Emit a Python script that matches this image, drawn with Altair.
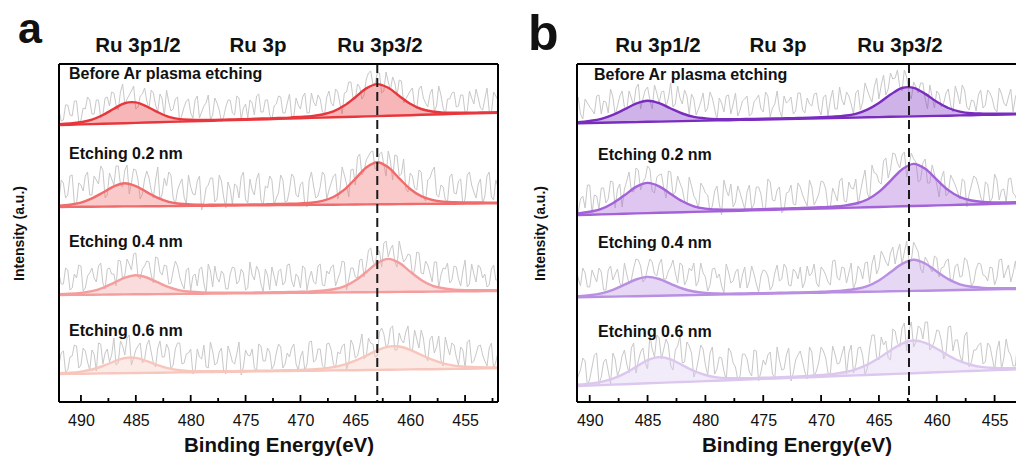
import altair as alt
import pandas as pd

FONT = "Liberation Sans"

# ---------------- shared axes / labels ----------------
E_FIT = list(range(492, 451, -1))                        # fit grid (eV)
E_RAW = [round(492 - 0.4 * j, 1) for j in range(101)]    # raw-data grid (eV)
E_MID = [round(491.8 - 0.4 * k, 1) for k in range(100)]  # in-between raw-data points (eV)
STAGES = ["Before Ar plasma etching", "Etching 0.2 nm", "Etching 0.4 nm", "Etching 0.6 nm"]
PEAK_LABELS = ["Ru 3p1/2", "Ru 3p", "Ru 3p3/2"]
TICKS_MAJOR = [490, 485, 480, 475, 470, 465, 460, 455]
TICKS_MINOR = [492.5, 487.5, 482.5, 477.5, 472.5, 467.5, 462.5, 457.5, 452.5]
DASH_A = [463.0]
DASH_B = [462.4]
COLORS_A = ["#e8373c", "#f06b6b", "#f59d9d", "#f7c6bd"]
COLORS_B = ["#7a2cbf", "#a362d8", "#b98fe2", "#dcc8ee"]

# ---------------- panel a ----------------
A1_BASE = [277.0,277.3,277.6,277.9,278.2,278.5,278.8,279.1,279.5,279.8,280.1,280.4,280.7,281.0,281.3,281.6,281.9,282.2,282.5,282.8,283.1,283.4,283.8,284.1,284.4,284.7,285.0,285.3,285.6,285.9,286.2,286.5,286.8,287.2,287.5,287.8,288.1,288.4,288.7,289.0,289.3]
A1_FIT = [277.8,278.5,279.8,282.4,287.0,293.2,298.9,299.6,295.5,289.8,285.2,282.9,282.2,282.0,282.1,282.4,282.6,282.9,283.3,283.6,284.0,284.4,285.1,285.9,287.5,290.6,296.4,304.8,313.6,317.9,314.2,306.0,298.2,293.0,290.5,289.4,289.2,289.2,289.4,289.5,289.8]
A1_RAW = [292,282,297,286,301,282,293,302,288,302,
          287,305,310,297,310,297,307,316,295,308,
          301,312,297,308,286,300,293,305,287,301,
          289,302,284,296,307,287,299,280,295,302,
          287,304,294,284,299,306,290,302,287,296,
          306,289,299,285,304,293,309,289,300,307,
          290,305,299,313,298,309,320,303,318,303,
          323,331,318,329,311,320,325,306,321,303,
          311,296,313,304,295,313,296,307,287,303,
          310,296,307,291,304,313,294,303,291,310,302]
A1_MID = [281,297,287,301,280,294,305,288,302,284,
          304,296,309,292,318,303,311,293,306,314,
          293,309,290,303,312,291,303,280,295,303,
          284,306,290,299,282,304,292,285,302,289,
          306,282,298,302,287,308,290,302,282,298,
          305,289,308,286,297,305,289,309,296,303,
          288,311,296,310,288,310,320,303,315,307,
          329,318,329,309,330,312,319,322,299,307,
          314,293,316,299,308,291,316,294,303,309,
          295,307,289,311,298,304,292,314,289,306]

A2_BASE = [195.0,195.1,195.2,195.3,195.4,195.5,195.6,195.6,195.7,195.8,195.9,196.0,196.1,196.2,196.3,196.4,196.5,196.6,196.7,196.8,196.9,196.9,197.0,197.1,197.2,197.3,197.4,197.5,197.6,197.7,197.8,197.9,198.0,198.1,198.1,198.2,198.3,198.4,198.5,198.6,198.7]
A2_FIT = [196.3,197.3,199.4,203.6,209.5,215.7,218.8,215.9,209.9,204.2,200.2,198.3,197.6,197.2,197.2,197.2,197.3,197.4,197.6,197.7,198.0,198.2,198.6,199.3,201.2,205.0,212.4,223.2,234.5,239.8,234.7,223.6,213.0,205.8,202.1,200.4,199.8,199.6,199.5,199.4,199.4]
A2_RAW = [202,219,207,227,199,217,226,207,226,218,
          232,207,223,236,217,232,208,233,222,208,
          231,212,222,202,224,230,204,212,223,198,
          215,207,226,200,217,224,203,221,194,213,
          218,204,230,199,212,223,202,216,226,197,
          209,222,201,228,207,218,197,222,216,206,
          230,203,219,228,212,227,205,233,245,227,
          242,250,233,248,237,251,222,246,228,213,
          229,214,232,205,222,231,207,217,202,225,
          209,221,197,227,217,204,223,206,230,202,215]
A2_MID = [222,204,226,198,219,211,230,207,222,236,
          204,229,217,236,215,237,219,232,203,223,
          224,204,235,208,216,227,198,218,205,227,
          208,221,192,214,224,200,227,205,220,198,
          216,225,202,223,207,229,196,214,222,204,
          227,200,212,225,205,220,195,230,204,215,
          227,212,226,203,235,218,232,217,248,231,
          246,251,235,250,226,241,247,226,243,210,
          226,212,230,201,224,235,205,215,200,228,
          208,223,203,230,210,218,198,226,205,222]

A3_BASE = [107.0,107.1,107.2,107.3,107.4,107.5,107.6,107.7,107.8,107.9,108.0,108.1,108.2,108.3,108.4,108.5,108.6,108.7,108.8,108.9,109.0,109.1,109.2,109.3,109.4,109.5,109.6,109.7,109.8,109.9,110.0,110.1,110.2,110.3,110.4,110.5,110.6,110.7,110.8,110.9,111.0]
A3_FIT = [107.7,108.2,109.1,110.8,114.2,119.2,124.3,126.8,124.5,119.6,114.9,111.7,110.2,109.5,109.2,109.2,109.3,109.3,109.5,109.6,109.8,110.0,110.2,110.5,111.2,112.7,115.6,121.5,130.0,138.9,143.1,139.1,130.4,122.1,116.4,113.7,112.4,111.9,111.8,111.7,111.7]
A3_RAW = [128,118,132,114,124,136,114,129,124,136,
          119,133,128,116,141,127,138,148,125,133,
          141,127,145,130,137,118,131,136,118,132,
          111,128,133,119,138,115,124,131,113,128,
          134,121,129,114,127,136,118,133,112,126,
          131,117,137,121,128,114,134,124,120,136,
          117,131,135,116,129,140,122,134,124,143,
          136,154,136,151,159,145,157,135,150,143,
          147,132,149,128,137,120,140,127,133,119,
          136,123,131,115,138,120,134,128,117,137,122]
A3_MID = [118,134,112,128,137,111,126,134,120,139,
          113,134,128,142,123,143,132,149,123,136,
          140,119,144,127,136,119,141,125,113,134,
          126,116,135,108,131,136,120,128,113,135,
          118,133,112,140,122,131,110,127,135,116,
          133,120,138,115,125,136,112,131,118,138,
          116,128,137,123,141,112,134,125,142,125,
          152,141,151,135,161,153,140,161,140,148,
          127,150,129,141,129,140,114,134,139,122,
          135,116,142,118,128,137,124,115,133,122]

A4_BASE = [28.0,28.1,28.3,28.4,28.6,28.7,28.9,29.0,29.1,29.3,29.4,29.6,29.7,29.9,30.0,30.1,30.3,30.4,30.6,30.7,30.9,31.0,31.1,31.3,31.4,31.6,31.7,31.8,32.0,32.1,32.3,32.4,32.6,32.7,32.8,33.0,33.1,33.3,33.4,33.6,33.7]
A4_FIT = [28.7,29.2,30.4,32.5,36.0,40.4,44.0,44.1,40.9,36.8,33.6,31.8,30.9,30.7,30.7,30.7,30.9,31.0,31.2,31.3,31.6,31.8,32.1,32.6,33.4,34.9,37.4,41.3,46.4,51.7,55.4,55.5,52.2,47.1,42.3,38.7,36.4,35.3,34.7,34.5,34.5]
A4_RAW = [37,51,32,46,56,37,51,32,48,59,
          38,53,47,37,61,47,67,44,56,39,
          57,50,35,61,45,53,37,59,38,48,
          53,31,45,57,34,51,39,54,28,49,
          38,60,35,47,53,31,56,41,50,37,
          58,34,49,54,38,45,31,60,40,53,
          36,58,52,34,48,58,39,57,46,68,
          46,59,45,70,68,58,76,52,62,70,
          52,72,54,64,41,66,55,42,65,47,
          57,37,52,60,39,48,57,41,54,33,50]
A4_MID = [49,30,45,57,34,54,40,52,31,58,
          49,40,64,39,56,64,37,52,59,43,
          62,39,54,45,58,33,53,59,39,49,
          28,53,43,35,60,37,50,31,56,40,
          48,27,52,46,34,58,41,54,33,49,
          55,38,45,58,32,51,38,61,42,53,
          34,59,38,50,56,33,62,44,56,43,
          64,58,46,74,55,74,52,69,59,76,
          51,63,72,46,63,49,66,36,55,59,
          45,55,34,62,41,56,47,36,59,40]

# ---------------- panel b ----------------
B1_BASE = [278.5,278.7,279.0,279.2,279.5,279.7,279.9,280.2,280.4,280.6,280.9,281.1,281.4,281.6,281.8,282.1,282.3,282.5,282.8,283.0,283.3,283.5,283.7,284.0,284.2,284.4,284.7,284.9,285.2,285.4,285.6,285.9,286.1,286.3,286.6,286.8,287.1,287.3,287.5,287.8,288.0]
B1_FIT = [279.3,279.9,281.1,283.1,287.1,292.6,298.4,301.3,298.9,293.5,288.5,285.1,283.6,282.9,282.7,282.9,283.0,283.2,283.5,283.7,284.0,284.3,284.7,285.3,286.2,288.2,292.4,299.0,307.4,314.0,314.2,308.1,300.2,294.0,290.4,288.8,288.4,288.2,288.3,288.4,288.5]
B1_RAW = [295,281,299,288,303,295,288,307,301,289,
          305,296,311,292,304,314,293,312,302,317,
          299,311,304,295,316,298,306,308,287,300,
          290,310,293,304,290,307,298,286,301,306,
          288,303,293,310,285,298,292,306,301,288,
          309,292,304,296,309,287,307,302,293,315,
          297,306,288,312,300,312,300,324,317,307,
          329,324,315,332,309,320,309,319,293,305,
          311,295,309,297,316,298,312,292,301,307,
          294,312,303,290,308,296,313,305,294,311,299]
B1_MID = [301,288,305,283,299,292,306,288,300,313,
          287,306,295,311,296,318,303,315,293,309,
          310,295,319,298,304,312,288,303,293,309,
          294,304,282,299,306,288,309,292,303,286,
          300,307,290,306,294,311,285,299,305,291,
          309,289,298,308,293,305,286,312,293,302,
          310,298,309,292,319,305,315,303,327,313,
          323,332,311,325,303,315,319,303,317,294,
          308,299,313,290,308,317,295,302,291,312,
          297,309,293,314,299,305,290,311,295,308]

B2_BASE = [186.7,187.0,187.3,187.6,187.9,188.2,188.6,188.9,189.2,189.5,189.8,190.1,190.4,190.7,191.0,191.3,191.6,191.9,192.3,192.6,192.9,193.2,193.5,193.8,194.1,194.4,194.7,195.0,195.4,195.7,196.0,196.3,196.6,196.9,197.2,197.5,197.8,198.1,198.4,198.7,199.1]
B2_FIT = [187.8,188.6,190.2,193.1,198.8,206.7,215.1,219.1,215.7,208.0,200.7,195.7,193.4,192.5,192.3,192.4,192.6,192.8,193.2,193.5,193.9,194.3,194.8,195.4,196.4,198.5,202.5,210.1,221.2,232.6,238.1,233.2,222.3,211.9,204.9,201.5,200.0,199.6,199.6,199.7,199.9]
B2_RAW = [200,210,188,203,194,217,207,193,214,203,
          220,213,195,221,211,234,212,224,233,209,
          227,214,231,207,226,213,198,216,202,219,
          209,190,211,198,222,206,195,216,201,210,
          193,215,208,195,220,201,215,192,210,198,
          219,207,196,215,202,221,213,195,208,221,
          201,220,213,197,222,209,237,228,218,244,
          233,248,234,250,237,243,220,239,219,237,
          218,224,206,227,217,203,221,208,226,216,
          198,218,204,222,212,200,224,206,221,203,215]
B2_MID = [194,213,189,206,217,189,206,214,199,221,
          194,218,213,230,210,232,220,236,211,225,
          228,204,230,210,219,201,225,206,193,215,
          207,196,216,187,212,218,200,209,193,217,
          198,215,192,223,202,212,189,209,217,197,
          215,201,222,197,208,220,194,214,201,224,
          200,214,223,210,232,203,229,220,241,224,
          249,239,247,225,249,240,222,243,219,228,
          205,231,209,222,210,223,195,217,224,205,
          220,200,228,202,213,223,209,199,218,206]

B3_BASE = [104.5,104.7,104.9,105.2,105.4,105.6,105.8,106.0,106.3,106.5,106.7,106.9,107.1,107.4,107.6,107.8,108.0,108.2,108.5,108.7,108.9,109.1,109.3,109.6,109.8,110.0,110.2,110.4,110.7,110.9,111.1,111.3,111.5,111.8,112.0,112.2,112.4,112.6,112.9,113.1,113.3]
B3_FIT = [105.2,105.8,106.8,108.7,112.2,117.3,122.5,125.1,123.0,118.2,113.5,110.5,109.1,108.6,108.4,108.5,108.7,108.8,109.1,109.4,109.6,109.9,110.3,110.7,111.5,113.0,115.9,121.5,129.7,138.1,142.2,138.5,130.5,122.9,117.7,115.2,114.1,113.7,113.8,113.9,113.9]
B3_RAW = [122,112,134,116,129,115,126,134,112,132,
          122,133,115,128,122,143,136,123,143,128,
          138,123,131,142,119,137,122,131,116,139,
          125,117,134,128,109,130,121,133,127,114,
          136,118,126,131,112,129,121,138,117,133,
          123,114,136,129,119,135,127,117,142,122,
          134,129,113,136,123,140,138,128,151,140,
          149,138,158,150,141,160,150,129,141,130,
          144,134,141,120,136,125,144,131,120,139,
          127,121,134,124,143,131,120,141,126,136,123]
B3_MID = [127,111,124,134,115,132,120,130,112,136,
          128,119,139,118,134,142,120,134,140,126,
          143,123,135,129,139,117,134,139,121,129,
          111,133,124,116,138,119,130,114,135,121,
          128,110,132,126,116,137,123,134,116,130,
          135,120,126,138,115,132,120,141,124,135,
          119,139,120,132,139,119,147,134,146,136,
          155,150,138,161,141,155,133,145,134,146,
          125,135,143,122,138,126,142,116,133,138,
          126,135,117,142,124,137,129,120,140,123]

B4_BASE = [15.6,16.0,16.5,16.9,17.4,17.8,18.2,18.7,19.1,19.6,20.0,20.4,20.9,21.3,21.8,22.2,22.6,23.1,23.5,24.0,24.4,24.8,25.3,25.7,26.2,26.6,27.0,27.5,27.9,28.4,28.8,29.2,29.7,30.1,30.6,31.0,31.4,31.9,32.3,32.8,33.2]
B4_FIT = [16.5,17.3,18.4,20.1,23.4,28.4,35.1,41.8,44.9,42.7,36.9,31.1,27.0,24.6,23.8,23.7,23.8,24.2,24.6,25.1,25.5,26.1,27.0,27.9,29.8,32.7,37.3,44.0,51.6,58.4,61.5,59.1,53.3,46.5,40.8,37.0,34.9,34.0,33.8,33.9,34.1]
B4_RAW = [24,43,18,32,41,23,47,18,40,31,
          49,26,46,38,54,29,50,39,67,45,
          64,53,57,32,56,39,60,49,31,57,
          37,49,28,45,31,54,39,22,48,43,
          26,51,30,37,50,24,42,33,54,29,
          47,41,23,50,31,55,44,28,48,39,
          56,49,29,54,46,34,67,45,65,61,
          42,71,55,79,72,55,76,63,80,55,
          72,61,49,76,62,47,66,35,52,57,
          38,59,44,52,33,63,47,36,59,41,54]
B4_MID = [19,40,26,44,16,35,49,25,43,18,
          43,33,52,29,59,41,54,33,53,67,
          43,63,36,52,66,40,56,25,43,53,
          27,55,33,44,22,50,35,26,48,30,
          52,21,42,47,28,55,32,47,21,42,
          51,30,55,26,40,51,29,56,38,48,
          28,57,37,55,27,54,67,42,57,44,
          73,59,74,51,80,60,74,80,52,61,
          71,43,75,51,62,39,70,40,52,59,
          40,56,32,61,44,51,36,63,31,53]

H = 338
W_A = 439
W_B = 439
ONE = pd.DataFrame({"k": [0]})


def frames(bases, fits, raws, mids):
    fit_df = pd.concat([pd.DataFrame({"E": E_FIT, "base": b, "fit": f, "s": s})
                        for s, b, f in zip(STAGES, bases, fits)], ignore_index=True)
    parts = []
    for s, r, m in zip(STAGES, raws, mids):
        parts.append(pd.DataFrame({"E": E_RAW, "raw": r, "s": s}))
        parts.append(pd.DataFrame({"E": E_MID, "raw": m, "s": s}))
    raw_df = pd.concat(parts, ignore_index=True).sort_values(["s", "E"]).reset_index(drop=True)
    return fit_df, raw_df


def txt(s, x, y, size, align="left"):
    return alt.Chart(ONE).mark_text(text=s, font=FONT, fontSize=size, fontWeight="bold",
                                    color="#111111", align=align, baseline="alphabetic").encode(
        x=alt.value(x), y=alt.value(y))


def hrule(x1, x2, y):
    return alt.Chart(ONE).mark_rule(color="black", strokeWidth=2).encode(
        x=alt.value(x1), x2=alt.value(x2), y=alt.value(y))


def vrule(x, y1, y2):
    return alt.Chart(ONE).mark_rule(color="black", strokeWidth=2).encode(
        x=alt.value(x), y=alt.value(y1), y2=alt.value(y2))


def panel(fit_df, raw_df, colors, domain, width, dash, letter, letter_xy, letter_size,
          peak_x, stage_xy, title_pad, right_frame):
    xs = alt.Scale(domain=domain, reverse=True, nice=False, zero=False)
    ys = alt.Scale(domain=[0, H], nice=False, zero=False)
    x_axis = alt.Axis(values=TICKS_MAJOR, ticks=False, domain=False, grid=False,
                      labelFont=FONT, labelFontSize=16, labelColor="#111111", labelPadding=10,
                      labelFlush=False, title="Binding Energy(eV)", titleFont=FONT,
                      titleFontSize=20.5, titleFontWeight="bold", titleColor="#111111",
                      titlePadding=7)
    y_axis = alt.Axis(labels=False, ticks=False, domain=False, grid=False,
                      title="Intensity (a.u.)", titleFont=FONT, titleFontSize=14,
                      titleFontWeight="bold", titleColor="#111111", titlePadding=title_pad)
    X = alt.X("E:Q", scale=xs, axis=x_axis)
    color = alt.Color("s:N", scale=alt.Scale(domain=STAGES, range=colors), legend=None)

    def Y(field):
        return alt.Y(field, type="quantitative", scale=ys, axis=y_axis)

    raw = alt.Chart(raw_df).mark_line(color="#c8c8c8", strokeWidth=1, clip=True).encode(
        x=X, y=Y("raw"), detail="s:N")
    fill = alt.Chart(fit_df).mark_area(interpolate="catmull-rom", fillOpacity=0.36, clip=True).encode(
        x=X, y=Y("fit"), y2="base:Q", color=color)
    base = alt.Chart(fit_df).mark_line(strokeWidth=2.4, clip=True).encode(
        x=X, y=Y("base"), color=color)
    env = alt.Chart(fit_df).mark_line(strokeWidth=2.4, interpolate="catmull-rom", clip=True).encode(
        x=X, y=Y("fit"), color=color)
    dash_rule = alt.Chart(pd.DataFrame({"E": dash})).mark_rule(
        color="#1a1a1a", strokeWidth=2, strokeDash=[9, 5]).encode(x=X)

    lo, hi = min(domain), max(domain)
    major = alt.Chart(pd.DataFrame({"E": [t for t in TICKS_MAJOR if lo <= t <= hi]})).mark_rule(
        color="black", strokeWidth=1.8).encode(x=X, y=alt.value(H), y2=alt.value(H - 7))
    minor = alt.Chart(pd.DataFrame({"E": [t for t in TICKS_MINOR if lo <= t <= hi]})).mark_rule(
        color="black", strokeWidth=1.8).encode(x=X, y=alt.value(H), y2=alt.value(H - 4))

    frame = [hrule(0, width, 0), hrule(0, width, H), vrule(0, 0, H)]
    if right_frame:
        frame.append(vrule(width, 0, H))

    texts = [txt(letter, letter_xy[0], letter_xy[1], letter_size)]
    for lab, px in zip(PEAK_LABELS, peak_x):
        texts.append(txt(lab, px, -12, 20.5, align="center"))
    for lab, (px, py) in zip(STAGES, stage_xy):
        texts.append(txt(lab, px, py, 16))

    return alt.layer(raw, fill, base, env, dash_rule, major, minor, *frame, *texts).properties(
        width=width, height=H)


fa, ra = frames([A1_BASE, A2_BASE, A3_BASE, A4_BASE], [A1_FIT, A2_FIT, A3_FIT, A4_FIT],
                [A1_RAW, A2_RAW, A3_RAW, A4_RAW], [A1_MID, A2_MID, A3_MID, A4_MID])
fb, rb = frames([B1_BASE, B2_BASE, B3_BASE, B4_BASE], [B1_FIT, B2_FIT, B3_FIT, B4_FIT],
                [B1_RAW, B2_RAW, B3_RAW, B4_RAW], [B1_MID, B2_MID, B3_MID, B4_MID])

panel_a = panel(fa, ra, COLORS_A, [452, 492], W_A, DASH_A, "a", (-41, -21), 43,
                [79, 199, 321], [(10, 15.4), (10, 95.4), (10, 183.4), (10, 272.4)], 33, True)
panel_b = panel(fb, rb, COLORS_B, [453.15, 491.1], W_B, DASH_B, "b", (-49, -14), 50,
                [81, 201, 323], [(17, 16.4), (21, 96.4), (21, 184.4), (21, 273.4)], 30, False)

chart = alt.hconcat(panel_a, panel_b, spacing=79, bounds="flush").resolve_scale(
    color="independent"
).properties(
    padding={"left": 11, "top": 8, "right": 0, "bottom": 0}
).configure_view(stroke="transparent")

chart.save("out.html", embed_options={"renderer": "svg", "actions": False})
